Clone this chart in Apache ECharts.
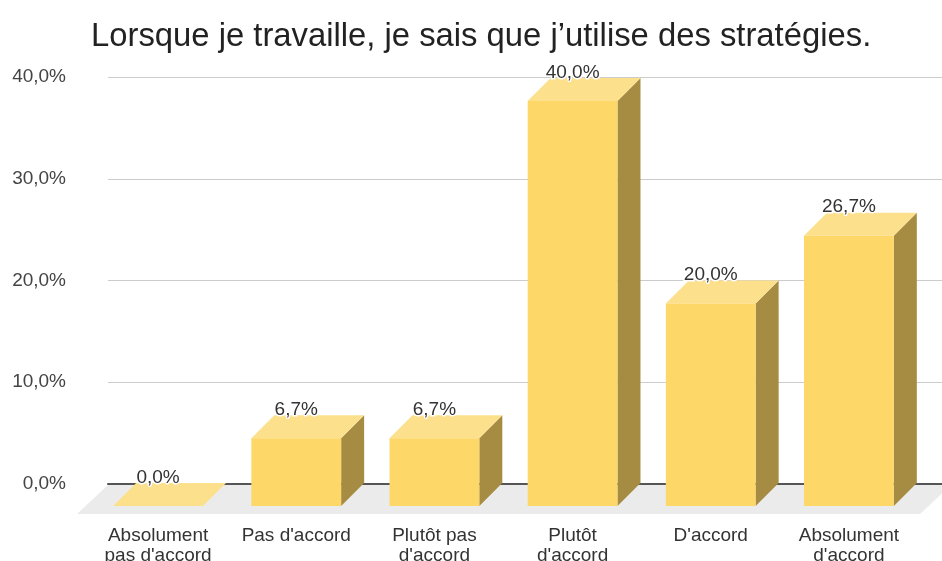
<!DOCTYPE html>
<html><head><meta charset="utf-8">
<script src="https://cdn.jsdelivr.net/npm/echarts@6/dist/echarts.min.js"></script>
<style>html,body{margin:0;padding:0;background:#fff}#c{width:942px;height:561px}</style>
</head><body><div id="c"></div>
<script>
const chartTitle = "Lorsque je travaille, je sais que j’utilise des stratégies.";
const categories = ["Absolument\npas d'accord", "Pas d'accord", "Plutôt pas\nd'accord", "Plutôt\nd'accord", "D'accord", "Absolument\nd'accord"];
const values = [0.0, 6.7, 6.7, 40.0, 20.0, 26.7];
const yMin = 0, yMax = 40, yStep = 10;

const FONT = "Arial, 'Liberation Sans', sans-serif";
const fmt = v => v.toFixed(1).replace('.', ',') + '%';
const DEPTH = 23;
const COLORS = { front: '#fdd768', top: '#fde08b', side: '#a68c43', floor: '#ebebeb' };

const chart = echarts.init(document.getElementById('c'), null, { renderer: 'canvas' });

chart.setOption({
  backgroundColor: '#fff',
  animation: false,
  title: {
    text: chartTitle, left: 86, top: 15,
    textStyle: { fontFamily: FONT, fontSize: 32.8, fontWeight: 'normal', color: '#222' }
  },
  grid: [
    { left: 108, right: 0, top: 77, bottom: 77, containLabel: false, outerBoundsMode: 'none' },
    { left: 89, right: 24, top: 101, bottom: 55, containLabel: false, outerBoundsMode: 'none' }
  ],
  xAxis: [
    { gridIndex: 0, type: 'category', data: categories, boundaryGap: true,
      axisLine: { show: true, lineStyle: { color: '#555', width: 2 } },
      axisTick: { show: false }, axisLabel: { show: false } },
    { gridIndex: 1, type: 'category', data: categories, boundaryGap: true,
      axisLine: { show: false }, axisTick: { show: false },
      axisLabel: { show: true, interval: 0, margin: 20, fontFamily: FONT, fontSize: 19, lineHeight: 20, color: '#333' } }
  ],
  yAxis: [
    { gridIndex: 0, type: 'value', min: yMin, max: yMax, interval: yStep,
      axisLine: { show: false }, axisTick: { show: false },
      axisLabel: { margin: 42, fontFamily: FONT, fontSize: 19, color: '#444', formatter: v => fmt(v) },
      splitLine: { lineStyle: { color: '#cccccc', width: 1 } } },
    { gridIndex: 1, type: 'value', min: yMin, max: yMax, interval: yStep, show: false,
      splitLine: { show: false } }
  ],
  series: [
    {
      type: 'custom', xAxisIndex: 0, yAxisIndex: 0, z: 1, silent: true,
      data: [[0, 0]],
      renderItem: function (params, api) {
        const cs = params.coordSys;
        const y0 = api.coord([0, 0])[1] + 1;
        const x0 = cs.x, x1 = cs.x + cs.width + 9;
        return { type: 'polygon', shape: { points: [[x0, y0], [x1, y0], [x1 - 31, y0 + 29], [x0 - 31, y0 + 29]] },
                 style: { fill: COLORS.floor } };
      }
    },
    {
      type: 'custom', xAxisIndex: 1, yAxisIndex: 1, z: 3,
      data: values.map((v, i) => [i, v]),
      renderItem: function (params, api) {
        const i = api.value(0), v = api.value(1);
        const top = api.coord([i, v]);
        const base = api.coord([i, 0]);
        const w = api.size([1, 0])[0] * 0.65;
        const xl = top[0] - w / 2, xr = top[0] + w / 2, yt = top[1], yb = base[1];
        const d = DEPTH;
        const children = [];
        if (yb - yt > 0.5) {
          children.push({ type: 'polygon', shape: { points: [[xr, yb], [xr + d, yb - d], [xr + d, yt - d], [xr, yt]] }, style: { fill: COLORS.side } });
        }
        children.push({ type: 'polygon', shape: { points: [[xl, yt], [xl + d, yt - d], [xr + d, yt - d], [xr, yt]] }, style: { fill: COLORS.top } });
        if (yb - yt > 0.5) {
          children.push({ type: 'rect', shape: { x: xl, y: yt, width: w, height: yb - yt }, style: { fill: COLORS.front } });
        }
        children.push({ type: 'text', x: top[0], y: yt - d - 5.5,
          style: { text: fmt(v), fontFamily: FONT, fontSize: 19, fill: '#333', align: 'center', verticalAlign: 'middle',
                   stroke: '#fff', lineWidth: 3 } });
        return { type: 'group', children: children };
      }
    }
  ]
});
</script>
</body></html>
